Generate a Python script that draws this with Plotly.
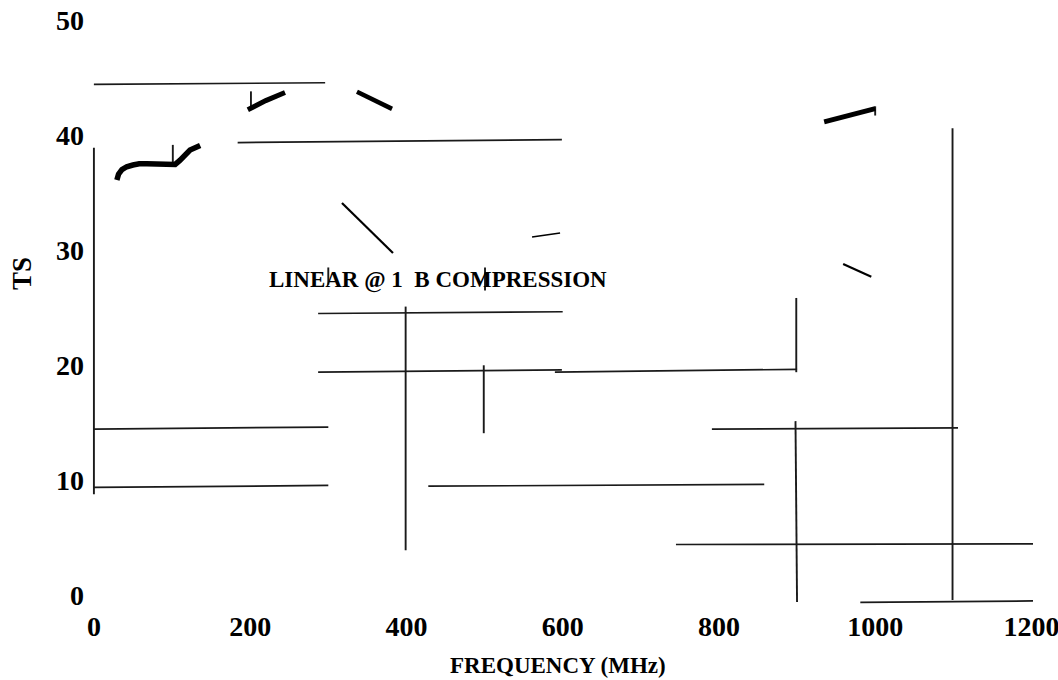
import plotly.graph_objects as go

# ---- axis ticks ----
x_ticks = [0, 200, 400, 600, 800, 1000, 1200]
y_ticks = [0, 10, 20, 30, 40, 50]

# ---- broken horizontal grid fragments (start/end points) ----
h_x0 = [0, 184, 287, 287, 590, 0, 791, 0, 428, 745, 981]
h_y0 = [44.9, 39.85, 25.0, 19.9, 19.9, 14.96, 14.96, 9.89, 10.0, 4.93, -0.1]
h_x1 = [296, 599, 600, 599, 900, 300, 1106, 300, 858, 1202, 1202]
h_y1 = [45.05, 40.1, 25.15, 20.1, 20.15, 15.13, 15.07, 10.06, 10.15, 4.98, 0.03]

# ---- broken vertical grid fragments ----
v_x0 = [0, 399, 499, 899, 898, 1099, 101, 201, 1000, 300, 500.6]
v_y0 = [39.4, 25.6, 20.5, 26.35, 15.65, 41.1, 39.65, 44.3, 43.0, 29.0, 29.0]
v_x1 = [0, 399, 499, 899, 900, 1099, 101, 201, 1000, 300, 500.6]
v_y1 = [9.3, 4.43, 14.6, 19.9, -0.06, 0.1, 37.9, 42.7, 42.2, 27.5, 27.0]

# ---- curve fragments ----
curve_a_x = [29.4, 31.5, 35.9, 42, 49.9, 58, 67.9, 85, 97.3, 104, 110, 123, 136]
curve_a_y = [36.6, 37.1, 37.5, 37.75, 37.9, 38.0, 38.0, 37.95, 37.9, 37.95, 38.3, 39.2, 39.6]
curve_b_x = [197, 220, 244.6]
curve_b_y = [42.7, 43.5, 44.2]
curve_c_x = [336.7, 381.6]
curve_c_y = [44.26, 42.78]
curve_d_x = [317.5, 382.8]
curve_d_y = [34.6, 30.26]
curve_e_x = [560.8, 596.7]
curve_e_y = [31.65, 32.0]
curve_f_x = [934.7, 964, 1000]
curve_f_y = [41.65, 42.2, 42.8]
curve_g_x = [959, 995]
curve_g_y = [29.3, 28.2]

label_text = "LINEAR @ 1  B COMPRESSION"
label_x = 441
label_y = 27.87


def segs(x0, y0, x1, y1):
    xs, ys = [], []
    for a, b, c, d in zip(x0, y0, x1, y1):
        xs += [a, c, None]
        ys += [b, d, None]
    return xs, ys


fig = go.Figure()
gx, gy = segs(h_x0, h_y0, h_x1, h_y1)
fig.add_trace(go.Scatter(x=gx, y=gy, mode="lines",
                         line=dict(color="#1a1a1a", width=1.7), hoverinfo="skip"))
vx, vy = segs(v_x0, v_y0, v_x1, v_y1)
fig.add_trace(go.Scatter(x=vx, y=vy, mode="lines",
                         line=dict(color="#1a1a1a", width=1.9), hoverinfo="skip"))

curves = [
    (curve_a_x, curve_a_y, 5.5),
    (curve_b_x, curve_b_y, 5),
    (curve_c_x, curve_c_y, 4.5),
    (curve_d_x, curve_d_y, 2.2),
    (curve_e_x, curve_e_y, 1.6),
    (curve_f_x, curve_f_y, 5),
    (curve_g_x, curve_g_y, 2.2),
]
for cx, cy, w in curves:
    fig.add_trace(go.Scatter(x=cx, y=cy, mode="lines",
                             line=dict(color="#000000", width=w),
                             hoverinfo="skip"))

serif = "Liberation Serif"

fig.add_annotation(x=label_x, y=label_y, xref="x", yref="y", text=label_text,
                   showarrow=False, xanchor="center", yanchor="middle",
                   font=dict(family=serif, size=23, color="#000", weight="bold"))
fig.add_annotation(x=-0.0721, y=0.5673, xref="paper", yref="paper", text="TS",
                   textangle=-90, showarrow=False, xanchor="center", yanchor="middle",
                   font=dict(family=serif, size=27, color="#000", weight="bold"))
fig.add_annotation(x=0.4968, y=-0.0997, xref="paper", yref="paper", text="FREQUENCY (MHz)",
                   showarrow=False, xanchor="center", yanchor="middle",
                   font=dict(family=serif, size=23, color="#000", weight="bold"))

fig.update_layout(
    width=1058, height=680,
    margin=dict(l=90, r=25, t=20, b=73, autoexpand=False),
    paper_bgcolor="white", plot_bgcolor="white",
    showlegend=False,
    xaxis=dict(range=[-5, 1202], tickvals=x_ticks, ticktext=[str(v) for v in x_ticks],
               showgrid=False, zeroline=False, showline=False, ticks="",
               automargin=False, ticklabelstandoff=0, ticklabeloverflow="allow",
               tickfont=dict(family=serif, size=28, color="#000", weight="bold")),
    yaxis=dict(range=[-0.5, 50.5], tickvals=y_ticks, ticktext=[str(v) for v in y_ticks],
               showgrid=False, zeroline=False, showline=False, ticks="",
               automargin=False, ticklabelstandoff=5, ticklabelshift=-6,
               ticklabeloverflow="allow",
               tickfont=dict(family=serif, size=28, color="#000", weight="bold")),
)

# remove the page's default body margin so the 1058x680 figure fills the window
fig.write_html("out.html", config={"displayModeBar": False},
               post_script="document.body.style.margin='0';document.body.style.overflow='hidden';")
